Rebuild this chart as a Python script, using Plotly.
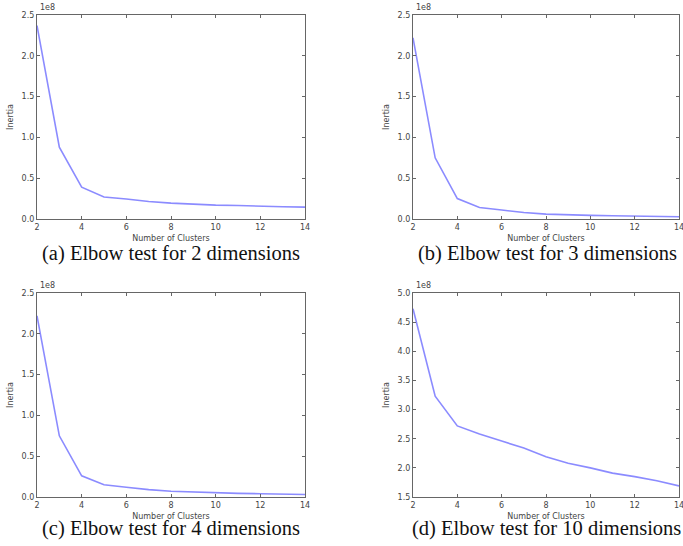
import plotly.graph_objects as go

clusters = [2, 3, 4, 5, 6, 7, 8, 9, 10, 11, 12, 13, 14]
inertia_2d = [2.37e8, 0.88e8, 0.39e8, 0.27e8, 0.245e8, 0.215e8, 0.195e8, 0.18e8, 0.17e8, 0.165e8, 0.155e8, 0.15e8, 0.145e8]
inertia_3d = [2.22e8, 0.75e8, 0.25e8, 0.14e8, 0.11e8, 0.08e8, 0.06e8, 0.05e8, 0.045e8, 0.04e8, 0.035e8, 0.03e8, 0.028e8]
inertia_4d = [2.22e8, 0.75e8, 0.26e8, 0.15e8, 0.12e8, 0.09e8, 0.07e8, 0.06e8, 0.05e8, 0.045e8, 0.04e8, 0.035e8, 0.03e8]
inertia_10d = [4.73e8, 3.23e8, 2.72e8, 2.58e8, 2.46e8, 2.34e8, 2.19e8, 2.08e8, 2.00e8, 1.91e8, 1.85e8, 1.78e8, 1.69e8]
captions = ["(a) Elbow test for 2 dimensions", "(b) Elbow test for 3 dimensions",
            "(c) Elbow test for 4 dimensions", "(d) Elbow test for 10 dimensions"]
x_ticks = [2, 4, 6, 8, 10, 12, 14]
y_ticks_small = [0.0, 0.5, 1.0, 1.5, 2.0, 2.5]
y_ticks_large = [1.5, 2.0, 2.5, 3.0, 3.5, 4.0, 4.5, 5.0]

W, H = 683, 546
panels = [
    (inertia_2d, (37, 305), (15, 219), y_ticks_small),
    (inertia_3d, (413, 679), (15, 219), y_ticks_small),
    (inertia_4d, (37, 305), (293, 497), y_ticks_small),
    (inertia_10d, (413, 679), (293, 497), y_ticks_large),
]
caption_pos = [(171, 253), (547, 253), (171, 528), (546, 528)]

def px(x):
    return x / W

def py(y):
    return 1 - y / H

fig = go.Figure()
small_font = dict(family="DejaVu Sans", size=8, color="#444")
layout = {}
annotations = []
for i, (vals, (x0, x1), (y0, y1), yt) in enumerate(panels):
    n = "" if i == 0 else str(i + 1)
    fig.add_trace(go.Scatter(x=clusters, y=vals, mode="lines",
                             line=dict(color="rgba(110,110,255,0.8)", width=1.6),
                             xaxis="x" + n, yaxis="y" + n, showlegend=False))
    common = dict(showline=True, linecolor="#666", linewidth=1.2, mirror="allticks",
                  ticks="inside", ticklen=3, tickcolor="#666", showgrid=False,
                  zeroline=False, tickfont=small_font, automargin=False,
                  ticklabeloverflow="allow")
    layout["xaxis" + n] = dict(domain=[px(x0), px(x1)], range=[2, 14], tickvals=x_ticks,
                               anchor="y" + n,
                               title=dict(text="Number of Clusters", font=small_font, standoff=4),
                               **common)
    layout["yaxis" + n] = dict(domain=[py(y1), py(y0)], range=[yt[0] * 1e8, yt[-1] * 1e8],
                               tickvals=[v * 1e8 for v in yt], ticktext=[f"{v:.1f}" for v in yt],
                               anchor="x" + n,
                               title=dict(text="Inertia", font=small_font, standoff=6),
                               **common)
    annotations.append(dict(text="1e8", x=px(x0 + 1), y=py(y0 - 1), xref="paper", yref="paper",
                            xanchor="left", yanchor="bottom", showarrow=False,
                            font=small_font))
    cx, cy = caption_pos[i]
    annotations.append(dict(text=captions[i], x=px(cx), y=py(cy), xref="paper", yref="paper",
                            xanchor="center", yanchor="middle", showarrow=False,
                            font=dict(family="Liberation Serif", size=20.5, color="#111")))

fig.update_layout(width=W, height=H, margin=dict(l=0, r=0, t=0, b=0),
                  paper_bgcolor="white", plot_bgcolor="white",
                  annotations=annotations, **layout)
fig.write_html("out.html", config={"displayModeBar": False},
               post_script="document.body.style.margin='0px';document.body.style.overflow='hidden';")
